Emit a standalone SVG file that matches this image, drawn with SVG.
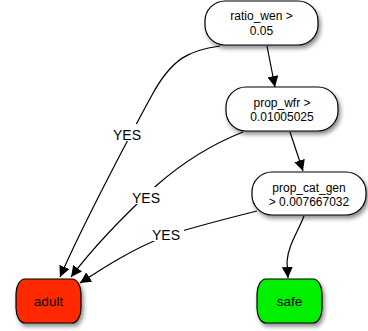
<svg xmlns="http://www.w3.org/2000/svg" width="368" height="331" viewBox="0 0 368 331">
<defs>
<filter id="sh" x="-30%" y="-30%" width="170%" height="180%">
<feDropShadow dx="2" dy="3" stdDeviation="2.2" flood-color="#000" flood-opacity="0.45"/>
</filter>
<marker id="ah" viewBox="0 0 10 10" refX="10" refY="5" markerWidth="11" markerHeight="11" markerUnits="userSpaceOnUse" orient="auto">
<path d="M0,0 L10,5 L0,10 z" fill="#000"/>
</marker>
<style>
.n{stroke:#000;stroke-width:1.2;filter:url(#sh)}
.t{font-family:"Liberation Sans",Arial,sans-serif;font-size:12px;text-anchor:middle;fill:#000}
.l{font-family:"Liberation Sans",Arial,sans-serif;font-size:14px;text-anchor:middle;fill:#000}
.e{fill:none;stroke:#000;stroke-width:1.2;marker-end:url(#ah)}
</style>
</defs>
<rect width="368" height="331" fill="#fff"/>
<g id="connectors">
<path class="e" d="M267,46 L275,87"/>
<path class="e" d="M290,132 L303,171"/>
<path class="e" d="M304,216 C298,232 288,245 287,262 L288,278"/>
<path class="e" d="M220,46 C190,50 172,58 152,95 C134,128 85,220 60,277"/>
<path class="e" d="M243,132 C215,143 188,158 157,185 C130,210 95,245 71,277"/>
<path class="e" d="M257,211 C225,219 190,228 166,236 C130,250 100,270 80,283"/>
</g>
<g id="edge-labels">
<rect x="109" y="124" width="36" height="17" fill="#fff"/>
<text class="l" x="127" y="140">YES</text>
<rect x="128" y="187" width="36" height="17" fill="#fff"/>
<text class="l" x="146" y="203">YES</text>
<rect x="148" y="224" width="36" height="17" fill="#fff"/>
<text class="l" x="166" y="240">YES</text>
</g>
<g id="ratio_wen">
<rect class="n" x="205" y="1" width="113" height="44" rx="20" ry="20" fill="#fff"/>
<text class="t" x="261.5" y="20">ratio_wen &gt;</text>
<text class="t" x="261.5" y="35">0.05</text>
</g>
<g id="prop_wfr">
<rect class="n" x="226" y="87" width="112" height="44" rx="20" ry="20" fill="#fff"/>
<text class="t" x="282" y="107">prop_wfr &gt;</text>
<text class="t" x="282" y="121">0.01005025</text>
</g>
<g id="prop_cat_gen">
<rect class="n" x="252" y="172" width="114" height="43" rx="20" ry="20" fill="#fff"/>
<text class="t" x="309" y="192">prop_cat_gen</text>
<text class="t" x="309" y="206">&gt; 0.007667032</text>
</g>
<g id="adult">
<rect class="n" x="16" y="279" width="65" height="44" rx="9" ry="15" fill="#ff2a00"/>
<text class="t" x="48.5" y="306" style="font-size:13.5px">adult</text>
</g>
<g id="safe">
<rect class="n" x="257" y="279" width="65" height="44" rx="9" ry="15" fill="#00f000"/>
<text class="t" x="289.5" y="306" style="font-size:13.5px">safe</text>
</g>
</svg>
